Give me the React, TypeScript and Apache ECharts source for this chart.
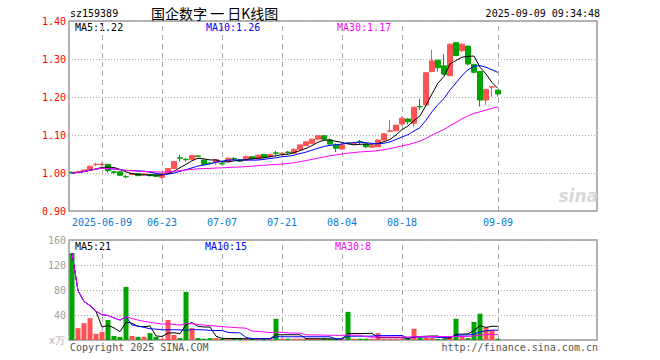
import { useEffect, useRef } from 'react';
import * as echarts from 'echarts';

const dates = [
  '2025-05-30', '2025-06-03', '2025-06-04', '2025-06-05', '2025-06-06',
  '2025-06-09', '2025-06-10', '2025-06-11', '2025-06-12', '2025-06-13',
  '2025-06-16', '2025-06-17', '2025-06-18', '2025-06-19', '2025-06-20',
  '2025-06-23', '2025-06-24', '2025-06-25', '2025-06-26', '2025-06-27',
  '2025-06-30', '2025-07-01', '2025-07-02', '2025-07-03', '2025-07-04',
  '2025-07-07', '2025-07-08', '2025-07-09', '2025-07-10', '2025-07-11',
  '2025-07-14', '2025-07-15', '2025-07-16', '2025-07-17', '2025-07-18',
  '2025-07-21', '2025-07-22', '2025-07-23', '2025-07-24', '2025-07-25',
  '2025-07-28', '2025-07-29', '2025-07-30', '2025-07-31', '2025-08-01',
  '2025-08-04', '2025-08-05', '2025-08-06', '2025-08-07', '2025-08-08',
  '2025-08-11', '2025-08-12', '2025-08-13', '2025-08-14', '2025-08-15',
  '2025-08-18', '2025-08-19', '2025-08-20', '2025-08-21', '2025-08-22',
  '2025-08-25', '2025-08-26', '2025-08-27', '2025-08-28', '2025-08-29',
  '2025-09-01', '2025-09-02', '2025-09-03', '2025-09-04', '2025-09-05',
  '2025-09-08', '2025-09-09',
];

const opens = [
  1.002, 1.002, 1.004, 1.008, 1.022, 1.022, 1.023, 1.003, 1.003, 0.991,
  0.996, 0.999, 0.996, 0.996, 0.995, 0.988, 1.001, 1.012, 1.040, 1.036,
  1.036, 1.045, 1.034, 1.026, 1.027, 1.026, 1.030, 1.038, 1.035, 1.033,
  1.043, 1.037, 1.049, 1.043, 1.053, 1.051, 1.055, 1.052, 1.062, 1.072,
  1.078, 1.089, 1.098, 1.087, 1.074, 1.063, 1.079, 1.077, 1.083, 1.076,
  1.068, 1.069, 1.087, 1.110, 1.111, 1.129, 1.142, 1.131, 1.175, 1.179,
  1.267, 1.297, 1.282, 1.256, 1.343, 1.322, 1.334, 1.286, 1.267, 1.192,
  1.226, 1.218,
];
const closes = [
  1.000, 1.003, 1.008, 1.018, 1.023, 1.023, 1.006, 1.002, 0.994, 0.990,
  0.999, 0.993, 0.998, 0.993, 0.991, 0.998, 1.012, 1.030, 1.039, 1.035,
  1.046, 1.043, 1.023, 1.025, 1.035, 1.024, 1.039, 1.037, 1.031, 1.043,
  1.037, 1.047, 1.041, 1.049, 1.052, 1.052, 1.054, 1.062, 1.074, 1.082,
  1.089, 1.098, 1.089, 1.076, 1.065, 1.074, 1.078, 1.078, 1.082, 1.069,
  1.072, 1.087, 1.103, 1.111, 1.126, 1.144, 1.135, 1.173, 1.174, 1.264,
  1.295, 1.277, 1.260, 1.339, 1.309, 1.339, 1.287, 1.265, 1.192, 1.220,
  1.227, 1.208,
];
const lows = [
  0.998, 0.999, 1.003, 1.007, 1.018, 1.018, 1.001, 0.997, 0.992, 0.986,
  0.995, 0.992, 0.994, 0.991, 0.989, 0.984, 1.000, 1.010, 1.030, 1.030,
  1.035, 1.042, 1.020, 1.022, 1.022, 1.022, 1.029, 1.034, 1.030, 1.032,
  1.036, 1.036, 1.040, 1.040, 1.046, 1.049, 1.049, 1.050, 1.061, 1.071,
  1.077, 1.086, 1.086, 1.075, 1.055, 1.061, 1.076, 1.075, 1.076, 1.066,
  1.067, 1.068, 1.086, 1.108, 1.110, 1.125, 1.128, 1.122, 1.166, 1.178,
  1.265, 1.267, 1.258, 1.255, 1.308, 1.318, 1.283, 1.262, 1.175, 1.179,
  1.201, 1.201,
];
const highs = [
  1.004, 1.007, 1.009, 1.019, 1.027, 1.027, 1.024, 1.006, 1.004, 0.994,
  1.000, 1.000, 0.999, 0.997, 0.996, 0.999, 1.013, 1.031, 1.048, 1.040,
  1.047, 1.046, 1.035, 1.028, 1.037, 1.028, 1.040, 1.042, 1.036, 1.046,
  1.044, 1.048, 1.050, 1.050, 1.058, 1.054, 1.058, 1.065, 1.075, 1.083,
  1.090, 1.099, 1.100, 1.091, 1.078, 1.075, 1.080, 1.080, 1.087, 1.077,
  1.073, 1.088, 1.104, 1.139, 1.127, 1.148, 1.145, 1.174, 1.195, 1.265,
  1.324, 1.298, 1.313, 1.340, 1.344, 1.341, 1.335, 1.287, 1.268, 1.221,
  1.228, 1.219,
];
// volume in 万
const volumes = [
  139, 19, 27, 35, 10, 13, 32, 6.5, 5, 85,
  6.5, 5, 5, 11, 5, 2, 32, 8, 3, 77,
  19, 3, 2, 3, 3, 2, 2, 2, 2, 2,
  2, 2, 2, 2, 34, 2, 2, 2, 2, 2,
  2, 2, 2, 1.5, 1.5, 1.5, 45, 2, 2, 2,
  2, 11, 2, 2, 2, 2, 2, 18, 4, 4,
  4, 1.5, 1.5, 4, 34, 6.5, 3, 29, 42, 20,
  16, 2,
];

const priceTicks = [0.9, 1.0, 1.1, 1.2, 1.3, 1.4];
const volumeTicks = [0, 40, 80, 120, 160];
const dateLabelIndexes = [5, 15, 25, 35, 45, 55, 71];
const dateLabelTexts = ['2025-06-09', '06-23', '07-07', '07-21', '08-04', '08-18', '09-09'];
const priceMaLabels = ['MA5:1.22', 'MA10:1.26', 'MA30:1.17'];
const volumeMaLabels = ['MA5:21', 'MA10:15', 'MA30:8'];
const TOTAL_SLOTS = 88;

const RED = '#ff5353';
const GREEN = '#00a400';
const MA_COLORS = ['#000000', '#0000ff', '#ff00ff'];
const MONO = '"DejaVu Sans Mono", "Liberation Mono", monospace';

function movingAverage(arr: number[], n: number): number[] {
  return arr.map((_, i) => {
    const s = arr.slice(Math.max(0, i - n + 1), i + 1);
    return s.reduce((a, b) => a + b, 0) / s.length;
  });
}

export default function App() {
  const ref = useRef<HTMLDivElement>(null);
  useEffect(() => {
    if (!ref.current) return;
    const chart = echarts.init(ref.current, undefined, { renderer: 'svg' });
    const categories = Array.from({ length: TOTAL_SLOTS }, (_, i) => (i < dates.length ? dates[i] : 'slot' + i));
    const kData = opens.map((o, i) => [o, closes[i], lows[i], highs[i]]);
    const volData = volumes.map((v, i) => ({
      value: v,
      itemStyle: { color: closes[i] >= opens[i] ? RED : GREEN },
    }));
    const periods = [5, 10, 30];
    const priceMA = periods.map((p) => movingAverage(closes, p));
    const volMA = periods.map((p) => movingAverage(volumes, p));
    const markLine = {
      silent: true,
      symbol: 'none',
      label: { show: false },
      lineStyle: { color: '#a8a8a8', type: [5, 4], width: 1 },
      data: dateLabelIndexes.map((i) => ({ xAxis: i })),
      z: 1,
    };
    const gridCommon = { left: 69, width: 528, show: true, borderColor: '#9a9a9a', borderWidth: 1.5, backgroundColor: 'transparent' };
    const labelMap: Record<number, string> = {};
    dateLabelIndexes.forEach((idx, j) => (labelMap[idx] = dateLabelTexts[j]));

    const text = (x: number, y: number, t: string, fill: string, extra: any = {}) => ({
      type: 'text', x, y, silent: true,
      style: { text: t, fill, font: '10px ' + MONO, textVerticalAlign: 'middle', ...extra },
    });

    chart.setOption({
      animation: false,
      backgroundColor: '#ffffff',
      grid: [
        { ...gridCommon, top: 21, height: 190 },
        { ...gridCommon, top: 240, height: 100 },
      ],
      xAxis: [
        {
          type: 'category', gridIndex: 0, data: categories, boundaryGap: true,
          axisLine: { show: false }, axisTick: { show: false }, splitLine: { show: false },
          axisLabel: {
            show: true, interval: (i: number) => labelMap[i] !== undefined,
            formatter: (_v: string, i: number) => labelMap[i] || '',
            color: '#0a7ad6', fontFamily: MONO, fontSize: 10, margin: 6,
          },
        },
        {
          type: 'category', gridIndex: 1, data: categories, boundaryGap: true,
          axisLine: { show: false }, axisTick: { show: false }, splitLine: { show: false },
          axisLabel: { show: false },
        },
      ],
      yAxis: [
        {
          type: 'value', gridIndex: 0, min: priceTicks[0], max: priceTicks[priceTicks.length - 1],
          interval: 0.1, axisLine: { show: false }, axisTick: { show: false },
          axisLabel: { color: '#ff0000', fontFamily: MONO, fontSize: 10, margin: 3, formatter: (v: number) => v.toFixed(2) },
          splitLine: { lineStyle: { color: '#a8a8a8', type: [1, 2], width: 1 } },
        },
        {
          type: 'value', gridIndex: 1, min: volumeTicks[0], max: volumeTicks[volumeTicks.length - 1],
          interval: 40, axisLine: { show: false }, axisTick: { show: false },
          axisLabel: { color: '#a0a0a0', fontFamily: MONO, fontSize: 10, margin: 3, formatter: (v: number) => (v === 0 ? '' : String(v)) },
          splitLine: { lineStyle: { color: '#a8a8a8', type: [1, 2], width: 1 } },
        },
      ],
      series: [
        {
          type: 'candlestick', xAxisIndex: 0, yAxisIndex: 0, data: kData, barWidth: 5,
          itemStyle: { color: RED, color0: GREEN, borderColor: RED, borderColor0: GREEN, borderWidth: 1 },
          markLine, z: 2,
        },
        ...priceMA.map((d, j) => ({
          type: 'line', xAxisIndex: 0, yAxisIndex: 0, data: d, symbol: 'none', silent: true,
          lineStyle: { color: MA_COLORS[j], width: 1 }, z: 3 + j,
        })),
        {
          type: 'bar', xAxisIndex: 1, yAxisIndex: 1, data: volData, barWidth: 5,
          markLine, z: 2,
        },
        ...volMA.map((d, j) => ({
          type: 'line', xAxisIndex: 1, yAxisIndex: 1, data: d, symbol: 'none', silent: true,
          lineStyle: { color: MA_COLORS[j], width: 1 }, z: 3 + j,
        })),
      ],
      graphic: [
        text(70, 13, 'sz159389', '#000'),
        { type: 'text', x: 151, y: 13, silent: true, style: { text: '国企数字 一 日K线图', fill: '#000', font: '14px "Noto Sans CJK SC"', textVerticalAlign: 'middle' } },
        text(600, 13, '2025-09-09 09:34:48', '#000', { textAlign: 'right' }),
        text(75, 27, priceMaLabels[0], MA_COLORS[0]),
        text(206, 27, priceMaLabels[1], MA_COLORS[1]),
        text(337, 27, priceMaLabels[2], MA_COLORS[2]),
        text(75, 246, volumeMaLabels[0], MA_COLORS[0]),
        text(205, 246, volumeMaLabels[1], MA_COLORS[1]),
        text(335, 246, volumeMaLabels[2], MA_COLORS[2]),
        text(49, 340, 'x万', '#b0b0b0'),
        text(70, 347, 'Copyright 2025 SINA.COM', '#555'),
        text(598, 347, 'http://finance.sina.com.cn', '#555', { textAlign: 'right' }),
        { type: 'text', x: 598, y: 196, silent: true, style: { text: 'sina', fill: '#d8d8d8', font: 'italic bold 17px "DejaVu Sans"', textAlign: 'right', textVerticalAlign: 'middle' } },
      ],
    });
    return () => chart.dispose();
  }, []);
  return <div ref={ref} style={{ position: 'fixed', left: 0, top: 0, width: 660, height: 360 }} />;
}
